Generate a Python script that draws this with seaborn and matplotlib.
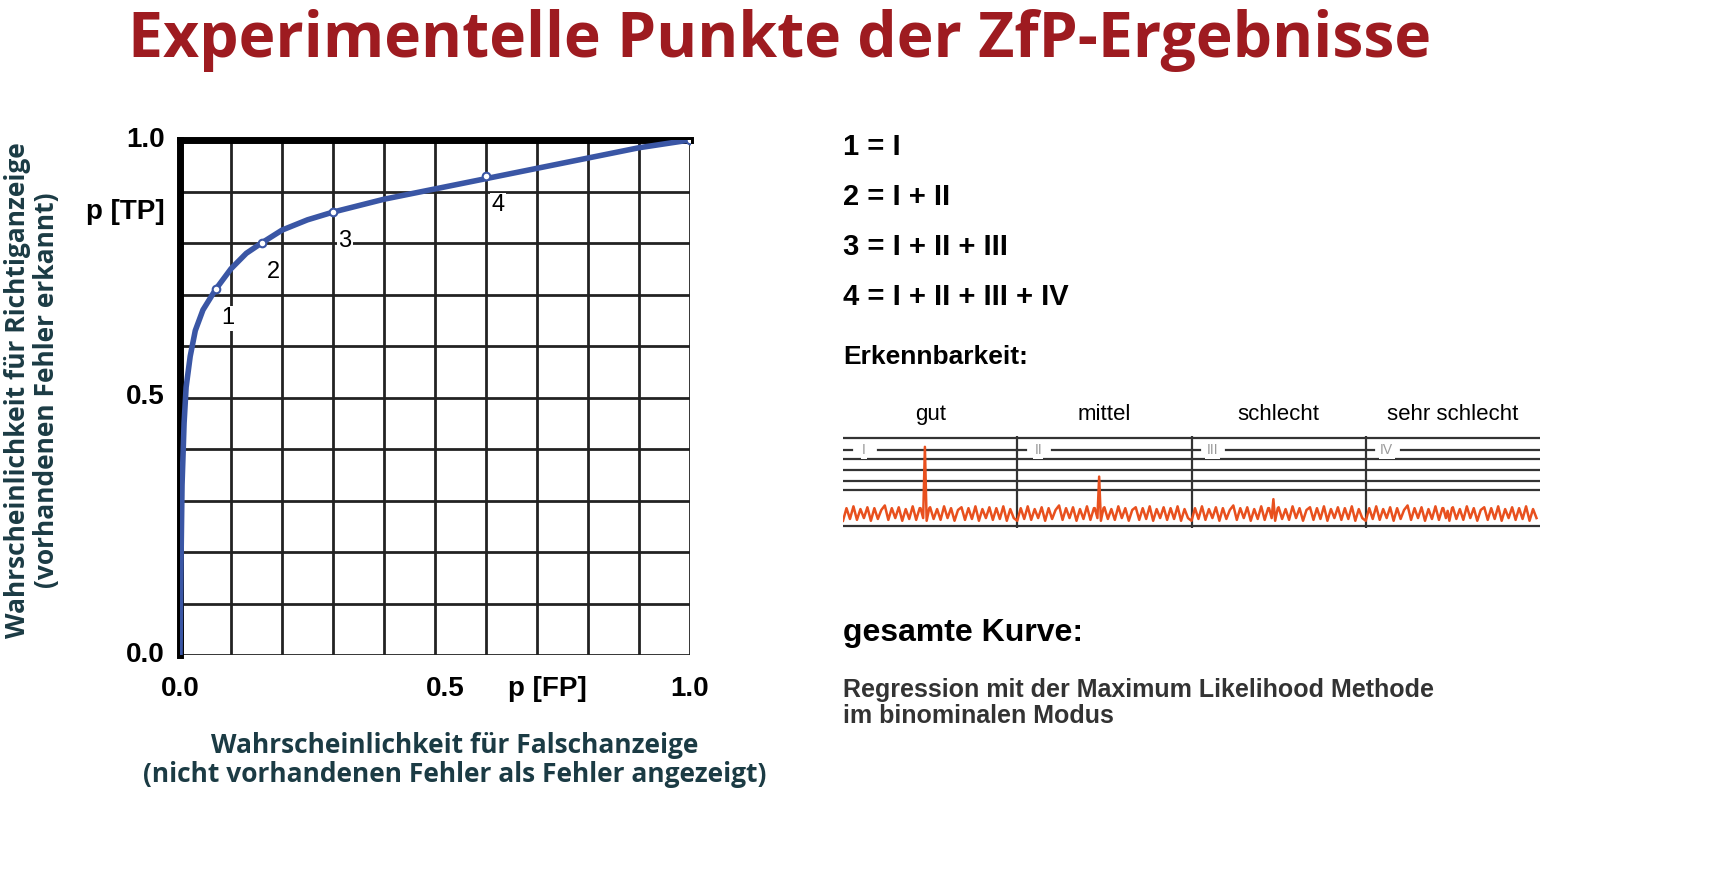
import matplotlib
matplotlib.use("Agg")
import matplotlib.pyplot as plt
import seaborn as sns
import pandas as pd

# ROC curve
fp = [0.0, 0.002, 0.004, 0.008, 0.012, 0.02, 0.03, 0.045, 0.07, 0.1, 0.13, 0.16, 0.2, 0.25, 0.3, 0.4, 0.5, 0.6, 0.7, 0.8, 0.9, 1.0]
tp = [0.0, 0.18, 0.33, 0.45, 0.52, 0.58, 0.63, 0.67, 0.71, 0.75, 0.78, 0.80, 0.825, 0.845, 0.86, 0.885, 0.905, 0.925, 0.945, 0.965, 0.985, 1.0]
pt_fp = [0.07, 0.16, 0.30, 0.60, 1.0]
pt_tp = [0.71, 0.80, 0.86, 0.93, 1.0]
pt_labels = ["1", "2", "3", "4", ""]

legend_lines = ["1 = I", "2 = I + II", "3 = I + II + III", "4 = I + II + III + IV"]
classes = ["gut", "mittel", "schlecht", "sehr schlecht"]
class_ids = ["I", "II", "III", "IV"]
peak_heights = [0.88, 0.55, 0.30, 0.17]
noise = [0.06, 0.2, 0.08, 0.22, 0.07, 0.19, 0.09, 0.21, 0.06, 0.2, 0.08, 0.18, 0.23, 0.07, 0.2,
         0.09, 0.21, 0.06, 0.19, 0.08, 0.22, 0.07, 0.2, 0.09, 0.06, 0.21, 0.08, 0.19, 0.07, 0.22,
         0.09, 0.2, 0.06, 0.18, 0.21, 0.07, 0.2, 0.08, 0.22, 0.06, 0.19, 0.09, 0.21, 0.07, 0.2,
         0.08, 0.22, 0.06, 0.19, 0.09]

red = "#9e1b20"
teal = "#1b3b44"
blue = "#3a56a5"
arial = "Liberation Sans"

fig = plt.figure(figsize=(17.09, 8.83), dpi=100)
fig.text(780 / 1709, 1 - 40 / 883, "Experimentelle Punkte der ZfP-Ergebnisse", ha="center", va="center",
         fontsize=45, fontweight="bold", color=red, family="Open Sans")

ax = fig.add_axes([180 / 1709, 228 / 883, 510 / 1709, 515 / 883])
sns.lineplot(x=fp, y=tp, ax=ax, color=blue, linewidth=4, zorder=3)
ax.scatter(pt_fp, pt_tp, s=30, facecolor="white", edgecolor=blue, linewidth=1.5, zorder=4)
for x, y, t in zip(pt_fp, pt_tp, pt_labels):
    ax.text(x + 0.01, y - 0.035, t, fontsize=17, ha="left", va="top", zorder=5, family=arial,
            bbox=dict(facecolor="white", edgecolor="none", pad=1) if t else None)
ax.set_xlim(0, 1)
ax.set_ylim(0, 1)
ax.set_xticks([i / 10 for i in range(11)])
ax.set_yticks([i / 10 for i in range(11)])
ax.grid(True, color="#222222", linewidth=2)
ax.set_axisbelow(True)
ax.tick_params(length=0, labelleft=False, labelbottom=False)
for s in ["top", "left"]:
    ax.spines[s].set_linewidth(5)
for s in ["right", "bottom"]:
    ax.spines[s].set_visible(False)
for v, lab in [(0.0, "0.0"), (0.5, "0.5"), (1.0, "1.0")]:
    ax.text(-0.03, v, lab, transform=ax.transAxes, ha="right", va="center", fontsize=20, fontweight="bold", family=arial)
ax.text(-0.03, 0.86, "p [TP]", transform=ax.transAxes, ha="right", va="center", fontsize=20, fontweight="bold", family=arial)
for v, lab in [(0.0, "0.0"), (0.52, "0.5"), (1.0, "1.0")]:
    ax.text(v, -0.04, lab, transform=ax.transAxes, ha="center", va="top", fontsize=20, fontweight="bold", family=arial)
ax.text(0.72, -0.04, "p [FP]", transform=ax.transAxes, ha="center", va="top", fontsize=20, fontweight="bold", family=arial)
fig.text(455 / 1709, 1 - 760 / 883, "Wahrscheinlichkeit für Falschanzeige\n(nicht vorhandenen Fehler als Fehler angezeigt)",
         ha="center", va="center", fontsize=19, fontweight="bold", color=teal, family="Open Sans", linespacing=1.1)
fig.text(32 / 1709, 1 - 390 / 883, "Wahrscheinlichkeit für Richtiganzeige\n(vorhandenen Fehler erkannt)",
         ha="center", va="center", rotation=90, fontsize=19, fontweight="bold", color=teal, family="Open Sans", linespacing=1.1)

# right side text
for i, t in enumerate(legend_lines):
    fig.text(843 / 1709, 1 - (147 + i * 50) / 883, t, ha="left", va="center", fontsize=21, fontweight="bold", family=arial)
fig.text(843 / 1709, 1 - 357 / 883, "Erkennbarkeit:", ha="left", va="center", fontsize=19, fontweight="bold", family=arial)
fig.text(843 / 1709, 1 - 633 / 883, "gesamte Kurve:", ha="left", va="center", fontsize=23, fontweight="bold", family=arial)
fig.text(843 / 1709, 1 - 703 / 883, "Regression mit der Maximum Likelihood Methode\nim binominalen Modus",
         ha="left", va="center", fontsize=18, fontweight="bold", color="#333333", linespacing=1.1, family=arial)

# signal panel
sx = fig.add_axes([843 / 1709, 1 - 528 / 883, 697 / 1709, 92 / 883])
edges = [0, 1, 2, 3, 4]
seg_x, seg_y = [], []
for k in range(4):
    for j, n in enumerate(noise):
        seg_x.append(k + j / len(noise))
        seg_y.append(n)
    pk = k + 0.47
    seg_x += [pk - 0.025, pk, pk + 0.025]
    seg_y += [0.2, peak_heights[k], 0.2]
sig = pd.DataFrame({"x": seg_x, "y": seg_y}).sort_values("x")
sns.lineplot(data=sig, x="x", y="y", ax=sx, color="#e8501e", linewidth=1.8, zorder=3)
for lvl in [0.0, 0.4, 0.5, 0.62, 0.75, 0.98]:
    sx.axhline(lvl, color="#333333", linewidth=1.6, zorder=1)
for k, cid in enumerate(class_ids):
    sx.text(k + 0.12, 0.84, cid, ha="center", va="center", fontsize=10, color="#999999", family=arial,
            bbox=dict(facecolor="white", edgecolor="none", pad=1))
    sx.plot([k, k + 0.05], [0.84, 0.84], color="#333333", linewidth=1.6)
    sx.plot([k + 0.2, k + 1], [0.84, 0.84], color="#333333", linewidth=1.6)
    sx.text(k + 0.5, 1.12, classes[k], ha="center", va="bottom", fontsize=16, family=arial)
for e in edges[1:-1]:
    sx.axvline(e, color="#333333", linewidth=1.6)
sx.set_xlim(0, 4)
sx.set_ylim(-0.02, 1.0)
sx.axis("off")

fig.savefig("out.png", dpi=100)
